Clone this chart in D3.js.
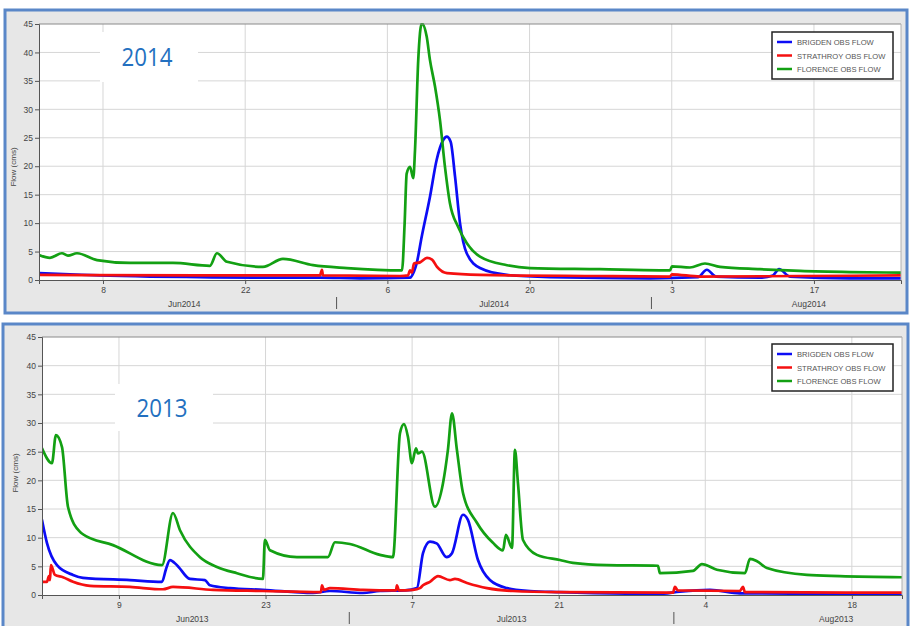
<!DOCTYPE html>
<html><head><meta charset="utf-8">
<script src="https://cdn.jsdelivr.net/npm/d3@7"></script>
<style>body{margin:0;background:#fff}svg{display:block}</style>
</head><body>
<svg id="c" width="910" height="626"></svg>
<script>
// ---------- DATA (t = days since 1 June of the year, value = flow in cms) ----------
const seriesNames = ["BRIGDEN OBS FLOW", "STRATHROY OBS FLOW", "FLORENCE OBS FLOW"];
const seriesColors = ["#0c0cf5", "#f51010", "#13a013"];
const yTickValues = [0, 5, 10, 15, 20, 25, 30, 35, 40, 45];

// 2014
const brigden2014 = [[0.70,1.2],[3.75,1.0],[6.70,0.8],[11.63,0.6],[16.55,0.5],[22.46,0.4],[28.36,0.4],[32.30,0.3],[37.23,0.4],[37.62,1.5],[37.88,2.9],[38.38,7.6],[39.19,14.6],[39.85,21.1],[40.50,24.6],[40.84,25.2],[41.23,24.3],[41.66,18.2],[42.15,10.0],[42.81,4.7],[44.12,2.1],[46.75,0.9],[51.01,0.5],[60.86,0.3],[65.58,0.5],[66.46,1.8],[67.35,0.6],[71.69,0.4],[72.96,0.8],[73.56,1.9],[74.64,0.6],[80.55,0.3],[85.57,0.3]];
const strathroy2014 = [[0.70,0.9],[16.55,0.8],[28.36,0.8],[28.56,1.8],[28.66,0.8],[36.24,0.7],[37.03,0.8],[37.23,1.7],[37.42,1.3],[37.62,2.9],[38.21,3.1],[38.90,3.9],[39.40,3.6],[39.89,2.3],[40.87,1.2],[44.12,0.9],[55.93,0.7],[62.83,0.6],[63.02,1.0],[65.79,0.6],[75.63,0.7],[85.57,0.8]];
const florence2014 = [[0.70,4.4],[1.78,3.9],[2.96,4.7],[3.55,4.3],[4.44,4.7],[6.41,3.5],[9.66,3.0],[13.89,3.0],[17.53,2.5],[18.22,4.7],[19.21,3.2],[22.75,2.3],[24.72,3.7],[27.68,2.6],[31.02,2.1],[36.44,1.7],[36.70,10.0],[36.90,18.7],[37.23,19.9],[37.55,17.9],[37.72,22.8],[38.04,38.7],[38.38,45.1],[38.87,42.8],[39.19,38.7],[39.69,34.0],[40.18,28.1],[40.67,19.9],[41.16,13.5],[41.95,9.4],[42.81,6.5],[44.12,4.1],[46.78,2.6],[49.04,2.1],[55.93,1.9],[61.84,1.7],[62.83,1.7],[63.02,2.4],[64.79,2.2],[66.27,2.9],[67.75,2.3],[71.69,1.9],[75.63,1.6],[80.55,1.4],[85.57,1.3]];

// 2013
const brigden2013 = [[0.65,13.1],[1.12,9.1],[2.08,5.2],[3.61,3.5],[4.56,3.0],[9.05,2.6],[12.11,2.3],[12.49,4.5],[12.87,6.1],[13.54,5.2],[14.78,2.8],[16.21,2.6],[16.69,1.7],[18.60,1.2],[21.75,0.9],[26.53,0.35],[28.15,0.7],[31.30,0.35],[32.93,0.7],[35.32,0.8],[36.46,1.2],[37.04,7.3],[37.70,9.3],[38.34,9.0],[39.29,6.6],[39.81,7.3],[40.86,14.0],[41.33,13.1],[42.29,6.1],[43.43,2.6],[45.06,1.2],[47.26,0.7],[50.12,0.5],[59.67,0.2],[61.58,0.6],[64.45,0.9],[67.31,0.3],[82.79,0.1]];
const strathroy2013 = [[0.65,2.3],[1.12,2.3],[1.31,3.3],[1.41,2.6],[1.50,5.2],[1.89,3.5],[2.65,3.1],[3.61,2.3],[5.23,1.6],[9.05,1.4],[12.20,1.0],[13.16,1.4],[16.98,0.9],[21.75,0.7],[27.29,0.5],[27.39,1.7],[27.58,0.9],[28.15,1.2],[31.30,0.9],[34.46,0.8],[34.55,1.7],[34.74,0.8],[36.08,0.9],[36.75,1.2],[37.04,1.7],[37.70,2.3],[38.47,3.3],[39.61,2.6],[40.09,2.8],[41.24,2.1],[43.15,1.2],[45.63,0.7],[50.12,0.5],[60.91,0.4],[61.10,1.4],[61.39,0.8],[67.31,0.7],[67.60,1.4],[67.79,0.5],[82.79,0.4]];
const florence2013 = [[0.65,25.6],[1.60,23.0],[1.98,27.9],[2.56,25.8],[3.13,15.4],[4.28,11.0],[4.56,10.6],[7.43,8.7],[12.11,5.2],[13.16,14.3],[13.83,11.3],[15.74,6.6],[17.36,4.9],[19.27,3.8],[21.75,2.8],[21.94,9.6],[22.42,7.8],[25.00,6.6],[27.96,6.6],[28.63,9.2],[30.06,8.9],[32.93,7.0],[34.17,6.6],[34.84,28.2],[35.22,29.8],[35.60,27.6],[35.98,23.0],[36.37,25.6],[36.56,24.7],[36.94,25.0],[38.18,15.4],[38.95,19.5],[39.42,25.3],[39.81,31.7],[40.28,25.3],[40.86,17.8],[42.19,12.6],[43.72,9.1],[44.68,7.8],[44.96,10.5],[45.54,8.2],[45.82,25.3],[46.11,19.5],[46.59,9.6],[47.92,7.0],[50.12,6.1],[51.36,5.6],[54.61,5.2],[59.48,5.1],[59.67,3.8],[62.82,4.2],[63.68,5.4],[65.11,4.4],[67.79,3.8],[68.27,6.3],[68.94,5.9],[69.89,4.7],[73.71,3.5],[76.86,3.3],[82.79,3.1]];

const ticks2014 = ["2014-06-08","2014-06-22","2014-07-06","2014-07-20","2014-08-03","2014-08-17"];
const ticks2013 = ["2013-06-09","2013-06-23","2013-07-07","2013-07-21","2013-08-04","2013-08-18"];
const months2014 = ["Jun2014","Jul2014","Aug2014"];
const months2013 = ["Jun2013","Jul2013","Aug2013"];
const monthStarts2014 = ["2014-06-01","2014-07-01","2014-08-01","2014-09-01"];
const monthStarts2013 = ["2013-06-01","2013-07-01","2013-08-01","2013-09-01"];

// ---------- LAYOUT ----------
const panels = [
  {year:2014, title:"2014", frame:[5,10,907,313], L:39, R:901, T:24, B:280, t0:0.70, t1:85.57,
   series:[brigden2014,strathroy2014,florence2014], ticks:ticks2014, months:months2014, monthStarts:monthStarts2014,
   titleBox:[100,32,98,50], legendTop:32, yLab:[16,167]},
  {year:2013, title:"2013", frame:[3,324,908,640], L:42, R:902, T:337, B:595, t0:0.65, t1:82.79,
   series:[brigden2013,strathroy2013,florence2013], ticks:ticks2013, months:months2013, monthStarts:monthStarts2013,
   titleBox:[115,384,98,47], legendTop:344, yLab:[18,473]}
];

const svg = d3.select("#c");
const parse = d3.utcParse("%Y-%m-%d");
const fmtDay = d3.utcFormat("%-d");
const defs = svg.append("defs");

panels.forEach((p, i) => {
  const g = svg.append("g");
  const base = Date.UTC(p.year, 5, 1);
  const toDate = t => new Date(base + t * 864e5);
  const x = d3.scaleUtc().domain([toDate(p.t0), toDate(p.t1)]).range([p.L, p.R]);
  const y = d3.scaleLinear().domain([0, 45]).range([p.B, p.T]);

  g.append("rect").attr("x", p.frame[0]).attr("y", p.frame[1])
    .attr("width", p.frame[2] - p.frame[0]).attr("height", p.frame[3] - p.frame[1])
    .attr("fill", "#e7e7e7").attr("stroke", "#5a87c8").attr("stroke-width", 3);

  g.append("rect").attr("x", p.L).attr("y", p.T).attr("width", p.R - p.L).attr("height", p.B - p.T)
    .attr("fill", "#fff");

  // grid
  g.append("g").selectAll("line").data(yTickValues.slice(1, -1)).join("line")
    .attr("x1", p.L).attr("x2", p.R).attr("y1", d => y(d)).attr("y2", d => y(d))
    .attr("stroke", "#d6d6d6").attr("stroke-width", 1);
  const tickDates = p.ticks.map(parse);
  g.append("g").selectAll("line").data(tickDates).join("line")
    .attr("x1", d => x(d)).attr("x2", d => x(d)).attr("y1", p.T).attr("y2", p.B)
    .attr("stroke", "#d6d6d6").attr("stroke-width", 1);

  // title box
  g.append("rect").attr("x", p.titleBox[0]).attr("y", p.titleBox[1])
    .attr("width", p.titleBox[2]).attr("height", p.titleBox[3]).attr("fill", "#fff");
  g.append("text").attr("x", p.titleBox[0] + p.titleBox[2] / 2 - 2).attr("y", p.titleBox[1] + p.titleBox[3] / 2 + 9)
    .attr("text-anchor", "middle").attr("font-family", "Open Sans, sans-serif").attr("font-size", 25)
    .attr("textLength", 51).attr("lengthAdjust", "spacingAndGlyphs")
    .attr("fill", "#2370c0").text(p.title);

  // lines
  const cid = "clip" + i;
  defs.append("clipPath").attr("id", cid).append("rect")
    .attr("x", p.L).attr("y", p.T - 1).attr("width", p.R - p.L).attr("height", p.B - p.T + 1);
  const line = d3.line().curve(d3.curveMonotoneX).x(d => x(toDate(d[0]))).y(d => y(d[1]));
  const lg = g.append("g").attr("clip-path", `url(#${cid})`);
  p.series.forEach((s, k) => {
    lg.append("path").attr("d", line(s)).attr("fill", "none")
      .attr("stroke", seriesColors[k]).attr("stroke-width", 2.7)
      .attr("stroke-linejoin", "round").attr("stroke-linecap", "round");
  });

  // plot border
  g.append("line").attr("x1", p.L).attr("x2", p.R).attr("y1", p.T).attr("y2", p.T).attr("stroke", "#8a8a8a");
  g.append("line").attr("x1", p.R).attr("x2", p.R).attr("y1", p.T).attr("y2", p.B).attr("stroke", "#b0b0b0");

  // y axis
  const ya = g.append("g").attr("transform", `translate(${p.L},0)`)
    .call(d3.axisLeft(y).tickValues(yTickValues).tickSize(4).tickPadding(2));
  ya.select(".domain").attr("stroke", "#555");
  ya.selectAll(".tick line").attr("stroke", "#555");
  ya.selectAll("text").attr("font-family", "Liberation Sans, Arial, sans-serif").attr("font-size", 8.5).attr("fill", "#444");

  // x axis
  const xa = g.append("g").attr("transform", `translate(0,${p.B})`)
    .call(d3.axisBottom(x).tickValues(tickDates).tickFormat(fmtDay).tickSize(4).tickPadding(3));
  xa.select(".domain").attr("stroke", "#555");
  xa.selectAll(".tick line").attr("stroke", "#555");
  xa.selectAll("text").attr("font-family", "Liberation Sans, Arial, sans-serif").attr("font-size", 8.5).attr("fill", "#444");

  // month labels and separators
  const ms = p.monthStarts.map(parse);
  p.months.forEach((m, k) => {
    const mid = new Date((ms[k].getTime() + ms[k + 1].getTime()) / 2);
    g.append("text").attr("x", x(mid)).attr("y", p.B + 27).attr("text-anchor", "middle")
      .attr("font-family", "Liberation Sans, Arial, sans-serif").attr("font-size", 8.5).attr("fill", "#444").text(m);
  });
  ms.filter(d => d > x.domain()[0] && d < x.domain()[1]).forEach(d => {
    g.append("line").attr("x1", x(d)).attr("x2", x(d)).attr("y1", p.B + 17).attr("y2", p.B + 29)
      .attr("stroke", "#555").attr("stroke-width", 1);
  });

  // y label
  g.append("text").attr("transform", `translate(${p.yLab[0]},${p.yLab[1]}) rotate(-90)`)
    .attr("text-anchor", "middle").attr("font-family", "Liberation Sans, Arial, sans-serif")
    .attr("font-size", 8).attr("fill", "#444").text("Flow (cms)");

  // legend
  const lgX = 772, lgY = p.legendTop;
  g.append("rect").attr("x", lgX).attr("y", lgY).attr("width", 121).attr("height", 47)
    .attr("fill", "#fff").attr("stroke", "#222").attr("stroke-width", 1.5);
  seriesNames.forEach((n, k) => {
    const yy = lgY + 10 + k * 13.5;
    g.append("line").attr("x1", lgX + 5).attr("x2", lgX + 20).attr("y1", yy).attr("y2", yy)
      .attr("stroke", seriesColors[k]).attr("stroke-width", 2.5);
    g.append("text").attr("x", lgX + 25).attr("y", yy + 3).attr("font-family", "Liberation Sans, Arial, sans-serif")
      .attr("font-size", 7.6).attr("fill", "#555").text(n);
  });
});
</script>
</body></html>
